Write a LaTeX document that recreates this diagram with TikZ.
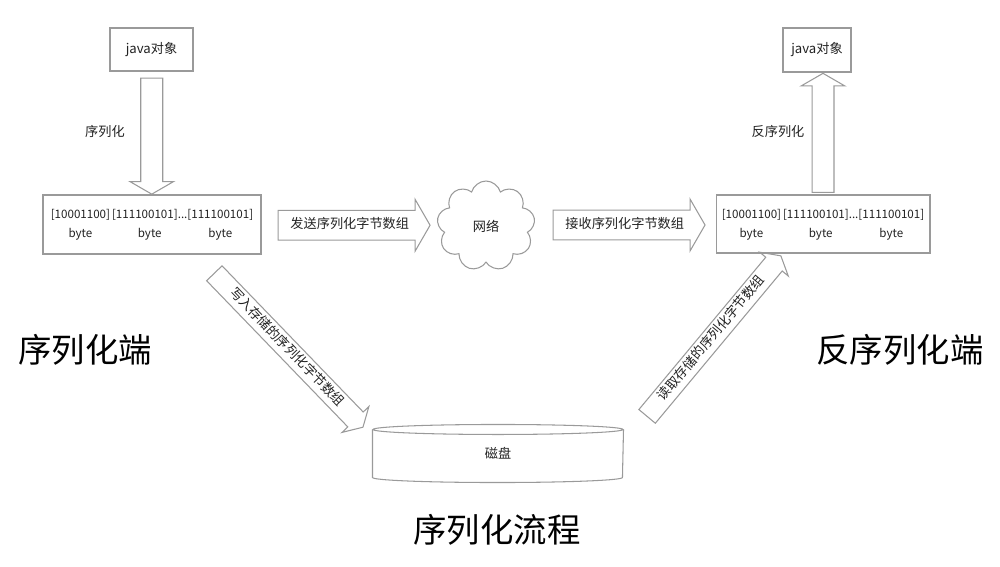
\documentclass[tikz,border=0pt]{standalone}
\usepackage{fontspec}
\setmainfont{Noto Sans CJK SC}
\usetikzlibrary{shapes.arrows,shapes.symbols,positioning,calc}
\definecolor{linegray}{HTML}{9A9A9A}
\definecolor{txtgray}{HTML}{222222}
\tikzset{every picture/.style={line width=0.6pt}}
\tikzset{
  box/.style={draw=linegray, text=txtgray, font=\fontsize{7.5}{10.8}\selectfont, align=center, inner sep=0pt},
  bytebox/.style={box, font=\fontsize{6.6}{10.8}\selectfont},
  fatarrow/.style={single arrow, draw=linegray, text=txtgray, font=\fontsize{7.5}{9}\selectfont,
    single arrow tip angle=120, minimum width=0pt, inner xsep=2pt, text height=5.3pt, text depth=1.5pt},
  emptyarrow/.style={single arrow, draw=linegray, single arrow tip angle=120, minimum width=0pt,
    inner xsep=0pt, inner ysep=5.95pt, text height=0pt, text depth=0pt, single arrow head extend=6.2pt},
  smalltxt/.style={font=\fontsize{7.5}{9}\selectfont, text=txtgray},
  bigtitle/.style={font=\fontsize{19}{22}\selectfont, text=black},
}
\newcommand{\bytetab}{%
  \begin{tabular}{@{}c@{\,}c@{}c@{}}
    [10001100] & [111100101]... & [111100101]\\
    byte & byte & byte
  \end{tabular}}

\begin{document}
\begin{tikzpicture}[x=0.02cm, y=-0.02cm]
    \useasboundingbox (0,0) rectangle (1000,567);

    % 序列化端
    \node[box, minimum width=1.66cm, minimum height=0.86cm] (jsrc) at (151.5,49.5) {java对象};
    \node[bytebox, minimum width=4.36cm, minimum height=1.18cm] (bytesL) at (152,224.5) {\bytetab};
    \node[emptyarrow, rotate=-90, minimum height=2.32cm] (serArrow) at ($(jsrc.south)!0.5!(bytesL.north)$) {};
    \node[smalltxt] (serLabel) at (105,131) {序列化};

    % 网络
    \node[cloud, cloud puffs=9, draw=linegray, text=txtgray, font=\fontsize{7.5}{9}\selectfont,
          minimum width=1.96cm, minimum height=1.8cm] (net) at (486,226) {网络};
    \node[fatarrow, inner ysep=4.8pt, single arrow head extend=6.2pt, minimum height=3.04cm]
        (sendArrow) at ($(bytesL.east)!0.5!(net.west)$) {发送序列化字节数组};

    % 反序列化端
    \node[bytebox, minimum width=4.28cm, minimum height=1.16cm] (bytesR) at (823,224) {\bytetab};
    \node[box, minimum width=1.36cm, minimum height=0.88cm] (jdst) at (817,50) {java对象};
    \node[fatarrow, inner ysep=4.8pt, single arrow head extend=6.2pt, minimum height=3.04cm]
        (recvArrow) at ($(net.east)!0.5!(bytesR.west)$) {接收序列化字节数组};
    \node[emptyarrow, rotate=90, minimum height=2.38cm] (deserArrow)
        at ($(bytesR.north)!0.5!(bytesR.north |- jdst.south)+(0,2.5)$) {};
    \node[smalltxt] (deserLabel) at (778,131) {反序列化};

    % 磁盘
    \node[smalltxt, minimum width=5cm, minimum height=0.94cm, inner sep=0pt] (disk) at (498,453.5) {磁盘};
    \draw[linegray] (disk.north) ellipse [x radius=2.5cm, y radius=0.1cm];
    \draw[linegray] (disk.north west) -- (disk.south west)
        arc [start angle=180, end angle=360, x radius=2.5cm, y radius=0.1cm] -- (disk.north east);

    % 写入与读取
    \node[fatarrow, inner ysep=2.4pt, single arrow head extend=4.5pt, minimum height=4.28cm, rotate=-46]
        (writeArrow) at (286.5,348) {写入存储的序列化字节数组};
    \node[fatarrow, inner ysep=2.4pt, single arrow head extend=4.5pt, minimum height=4.18cm, rotate=50.2]
        (readArrow) at (712,338.5) {读取存储的序列化字节数组};

    % 标题
    \node[bigtitle] (serTitle) at (85,350) {序列化端};
    \node[bigtitle] (deserTitle) at (900,350) {反序列化端};
    \node[bigtitle] (flowTitle) at (497,530) {序列化流程};
\end{tikzpicture}
\end{document}
